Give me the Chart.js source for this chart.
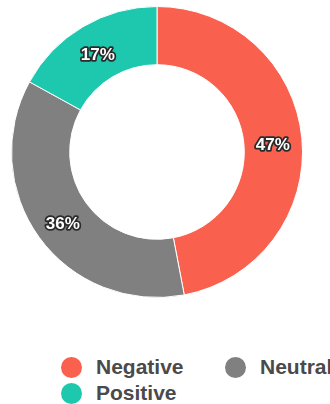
<!DOCTYPE html>
<html>
<head>
<meta charset="utf-8">
<script src="https://cdn.jsdelivr.net/npm/chart.js@4"></script>
<style>
  html, body { margin: 0; padding: 0; background: #fff; overflow: hidden; }
  body { width: 330px; height: 404px; position: relative; }
  #wrap { position: absolute; left: 0; top: 0; width: 330px; height: 310px; }
  #legend {
    position: absolute; left: 61px; top: 354px;
    display: grid; grid-template-columns: 164px 164px; grid-auto-rows: 26px;
    font-family: "Liberation Sans", Arial, sans-serif; font-weight: bold;
    font-size: 21px; color: #4a4a4a; white-space: nowrap;
  }
  .item { display: flex; align-items: center; }
  .dot { width: 21px; height: 21px; border-radius: 50%; margin-right: 14px; flex: none; }
</style>
</head>
<body>
<div id="wrap"><canvas id="chart"></canvas></div>
<div id="legend"></div>
<script>
const labels = ["Negative", "Neutral", "Positive"];
const values = [47, 36, 17];
const colors = ["#f9604d", "#808080", "#1dc8ae"];

// percent labels painted on each slice
const sliceLabels = {
    id: "sliceLabels",
    afterDatasetsDraw(chart) {
        const ctx = chart.ctx;
        const meta = chart.getDatasetMeta(0);
        const total = values.reduce((a, b) => a + b, 0);
        ctx.save();
        ctx.font = "bold 17px 'Liberation Sans', Arial, sans-serif";
        ctx.textAlign = "center";
        ctx.textBaseline = "middle";
        ctx.lineJoin = "round";
        meta.data.forEach((arc, i) => {
            const p = arc.tooltipPosition();
            const txt = Math.round(values[i] / total * 100) + "%";
            const y = p.y + 4;
            ctx.lineWidth = 3.5;
            ctx.strokeStyle = "#2a2a2a";
            ctx.strokeText(txt, p.x, y);
            ctx.fillStyle = "#ffffff";
            ctx.fillText(txt, p.x, y);
        });
        ctx.restore();
    }
};

// legend built as html so it can lay out in two columns
const htmlLegend = {
    id: "htmlLegend",
    afterUpdate(chart) {
        const box = document.getElementById("legend");
        box.innerHTML = "";
        const items = chart.options.plugins.legend.labels.generateLabels(chart);
        items.forEach(item => {
            const div = document.createElement("div");
            div.className = "item";
            const dot = document.createElement("span");
            dot.className = "dot";
            dot.style.background = item.fillStyle;
            const txt = document.createElement("span");
            txt.textContent = item.text;
            div.appendChild(dot);
            div.appendChild(txt);
            box.appendChild(div);
        });
    }
};

new Chart(document.getElementById("chart"), {
    type: "doughnut",
    data: {
        labels: labels,
        datasets: [{
            data: values,
            backgroundColor: colors,
            borderColor: "#ffffff",
            borderWidth: 1
        }]
    },
    options: {
        responsive: true,
        maintainAspectRatio: false,
        animation: false,
        cutout: "60%",
        layout: { padding: { left: 11, right: 27, top: 6, bottom: 12 } },
        plugins: {
            legend: { display: false },
            tooltip: { enabled: false }
        }
    },
    plugins: [sliceLabels, htmlLegend]
});
</script>
</body>
</html>
